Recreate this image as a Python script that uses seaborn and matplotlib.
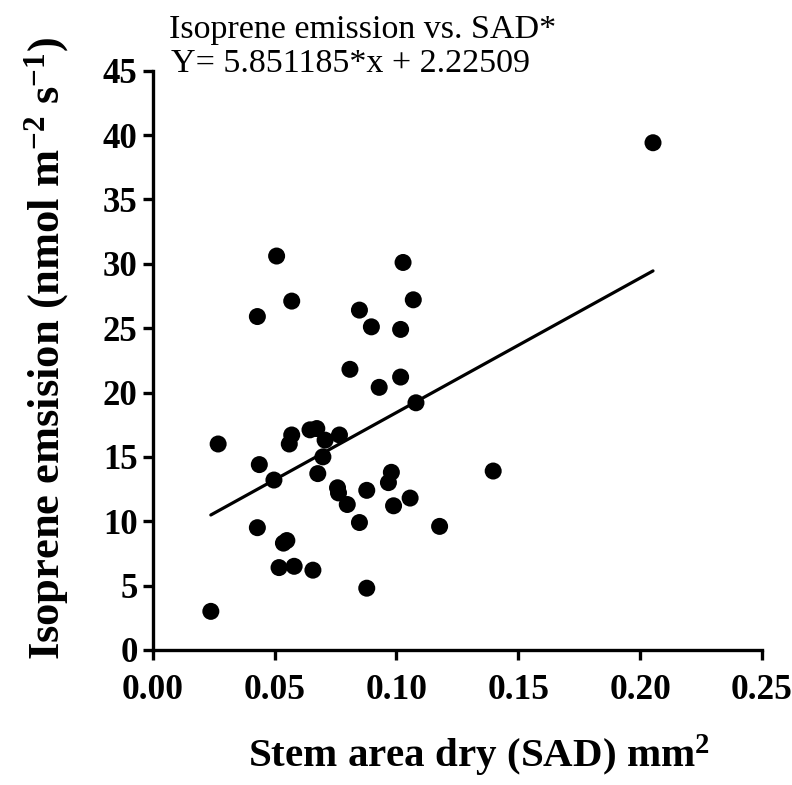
import matplotlib
matplotlib.use("Agg")
import matplotlib.pyplot as plt
import seaborn as sns
import pandas as pd

sad = [0.0238, 0.0268, 0.0429, 0.0429, 0.0437, 0.0497, 0.0508, 0.0518, 0.0536, 0.0550,
       0.0560, 0.0570, 0.0570, 0.0580, 0.0645, 0.0657, 0.0673, 0.0677, 0.0698, 0.0707,
       0.0758, 0.0762, 0.0766, 0.0798, 0.0809, 0.0848, 0.0848, 0.0878, 0.0878, 0.0897,
       0.0929, 0.0967, 0.0979, 0.0988, 0.1017, 0.1017, 0.1027, 0.1056, 0.1069, 0.1080,
       0.1177, 0.1397, 0.2053]
isoprene = [3.0, 16.0, 25.9, 9.5, 14.4, 13.2, 30.6, 6.4, 8.3, 8.5,
            16.0, 16.7, 27.1, 6.5, 17.1, 6.2, 17.2, 13.7, 15.0, 16.3,
            12.6, 12.2, 16.7, 11.3, 21.8, 26.4, 9.9, 12.4, 4.8, 25.1,
            20.4, 13.0, 13.8, 11.2, 24.9, 21.2, 30.1, 11.8, 27.2, 19.2,
            9.6, 13.9, 39.4]
x_ticks = [0.00, 0.05, 0.10, 0.15, 0.20, 0.25]
x_ticklabels = ["0.00", "0.05", "0.10", "0.15", "0.20", "0.25"]
y_ticks = [0, 5, 10, 15, 20, 25, 30, 35, 40, 45]
title_line1 = "Isoprene emission vs. SAD*"
title_line2 = "Y= 5.851185*x + 2.22509"

df = pd.DataFrame({"sad": sad, "iso": isoprene})

sns.set_theme(style="ticks")
plt.rcParams["font.family"] = ["Liberation Serif", "DejaVu Serif"]
plt.rcParams["mathtext.fontset"] = "custom"
plt.rcParams["mathtext.rm"] = "Liberation Serif"
plt.rcParams["mathtext.bf"] = "Liberation Serif:bold"
plt.rcParams["mathtext.it"] = "Liberation Serif:italic"
for k in ["text.color", "axes.labelcolor", "xtick.color", "ytick.color", "axes.edgecolor"]:
    plt.rcParams[k] = "black"

fig = plt.figure(figsize=(7.92, 7.85), dpi=100)
ax = fig.add_axes([0.193, 0.172, 0.769, 0.738])

sns.regplot(data=df, x="sad", y="iso", ax=ax, ci=None, truncate=True,
            scatter_kws=dict(s=150, color="black", edgecolor="none", alpha=1),
            line_kws=dict(color="black", lw=2.3))

ax.set_xlim(0, 0.25)
ax.set_ylim(0, 45)
ax.set_xticks(x_ticks)
ax.set_xticklabels(x_ticklabels)
ax.set_yticks(y_ticks)
for sp in ["top", "right"]:
    ax.spines[sp].set_visible(False)
for sp in ["left", "bottom"]:
    ax.spines[sp].set_linewidth(2.4)
    ax.spines[sp].set_color("black")
ax.tick_params(axis="both", direction="out", length=7, width=2.4, colors="black",
               labelsize=25, pad=4)
ax.tick_params(axis="x", labelsize=25.5, pad=10)
for lab in ax.get_xticklabels() + ax.get_yticklabels():
    lab.set_fontweight("bold")
ax.set_xlabel(r"Stem area dry (SAD) mm$\mathbf{^{2}}$", fontsize=29.5, fontweight="bold")
ax.xaxis.set_label_coords(0.535, -0.143)
ax.set_ylabel(r"Isoprene emsision (nmol m$\mathbf{^{-2}}$ s$\mathbf{^{-1}}$)", fontsize=32,
              fontweight="bold")
ax.yaxis.set_label_coords(-0.135, 0.52)
ax.margins(0)

fig.text(0.213, 0.962, title_line1, fontsize=24.5, ha="left", va="center")
fig.text(0.216, 0.919, title_line2, fontsize=24.5, ha="left", va="center")

fig.savefig("out.png", dpi=100)
